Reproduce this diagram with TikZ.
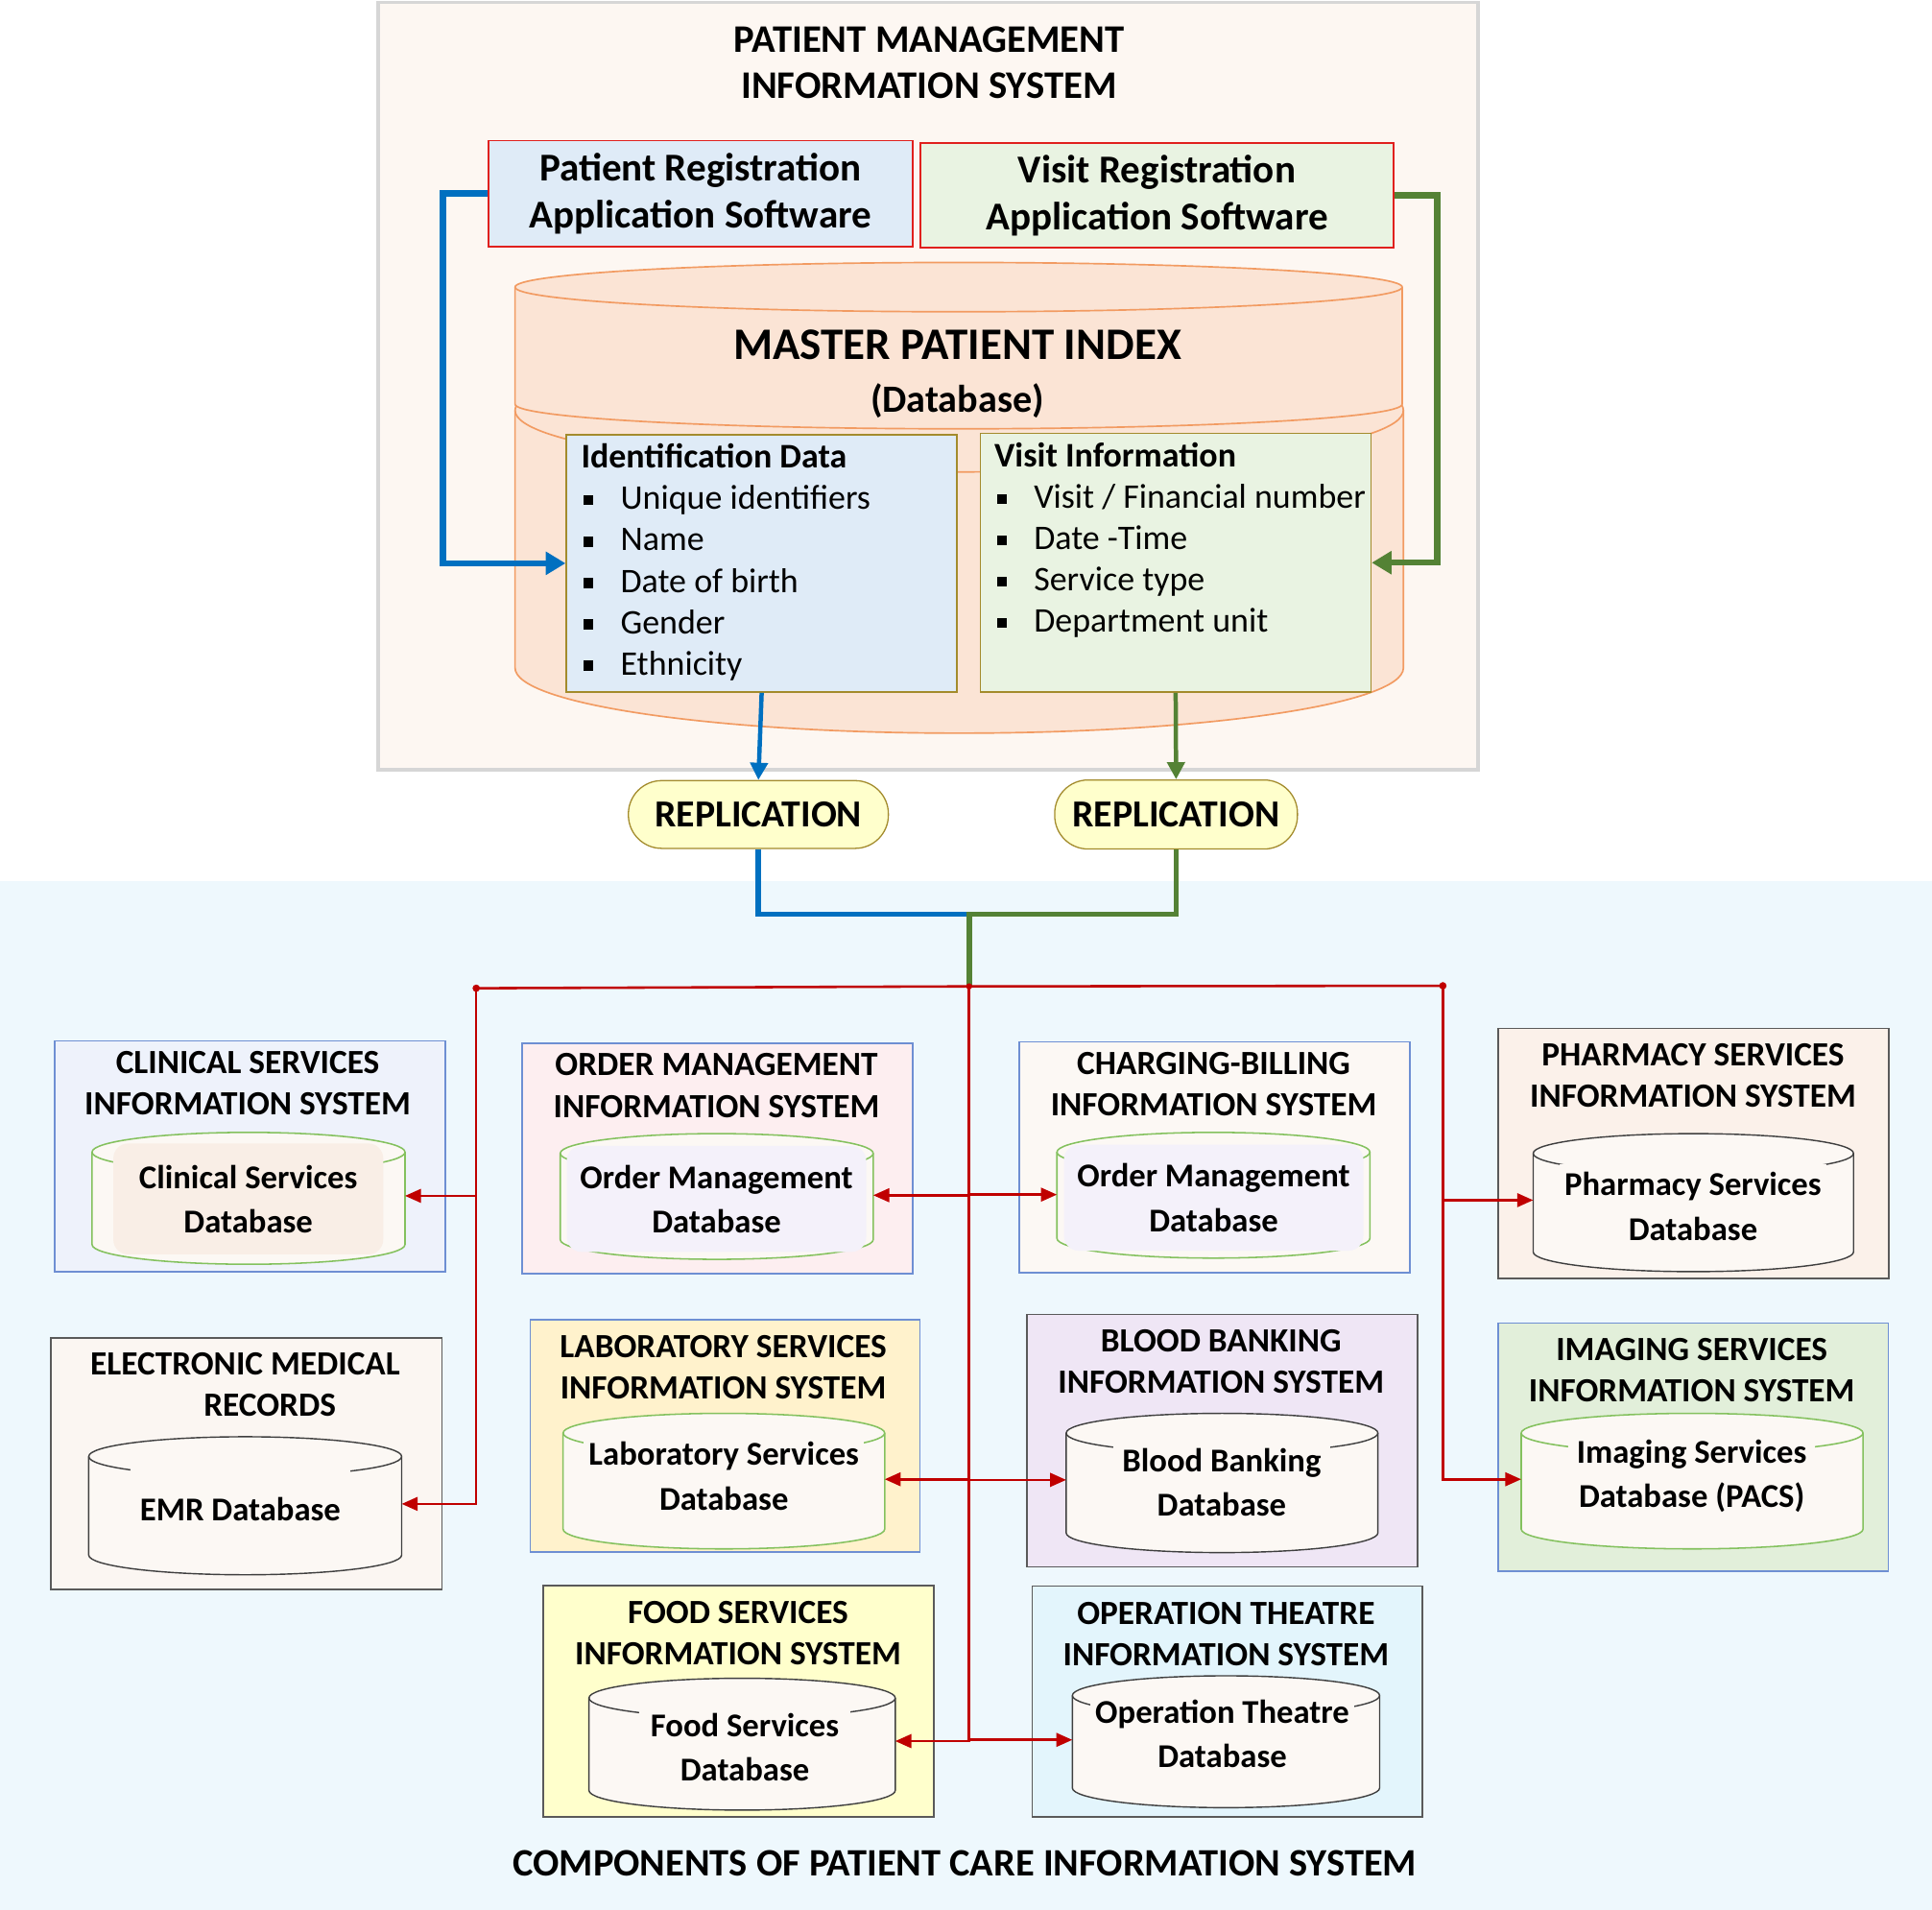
\documentclass[tikz,border=0pt]{standalone}
\usepackage{fontspec}
\setmainfont{Carlito}
\usetikzlibrary{arrows.meta}
\definecolor{panelfill}{HTML}{FDF7F2}
\definecolor{panelline}{HTML}{D6D6D6}
\definecolor{bgblue}{HTML}{EEF8FD}
\definecolor{regred}{HTML}{E0201E}
\definecolor{prfill}{HTML}{DFEBF7}
\definecolor{vrfill}{HTML}{E9F3E2}
\definecolor{mpifill}{HTML}{FBE4D5}
\definecolor{mpiline}{HTML}{F29B62}
\definecolor{oliveline}{HTML}{A38B2C}
\definecolor{arrblue}{HTML}{0070C0}
\definecolor{arrgreen}{HTML}{548235}
\definecolor{repfill}{HTML}{FFFFCC}
\definecolor{busred}{HTML}{C00000}
\definecolor{sysblue}{HTML}{6E8FD3}
\definecolor{sysgray}{HTML}{5A5A5A}
\definecolor{cylgreen}{HTML}{84C15E}
\definecolor{cylgray}{HTML}{3F3F3F}
\definecolor{cylfill}{HTML}{FCF8F4}
\definecolor{clinfill}{HTML}{EEF2FB}
\definecolor{ordfill}{HTML}{FDEEF0}
\definecolor{chgfill}{HTML}{FCF8F4}
\definecolor{phafill}{HTML}{FBF1EA}
\definecolor{emrfill}{HTML}{FBF6F2}
\definecolor{labfill}{HTML}{FFF2CC}
\definecolor{bldfill}{HTML}{EFE6F5}
\definecolor{imgfill}{HTML}{E2EFDA}
\definecolor{foodfill}{HTML}{FFFFCC}
\definecolor{otfill}{HTML}{E3F5FC}
\definecolor{clininner}{HTML}{F9EEE6}
\definecolor{ordinner}{HTML}{F4F1FA}
\newcommand\myfs[2]{\fontsize{#1}{#2}\selectfont}
\newcommand\blt{\makebox[32pt][l]{\hspace{2pt}\rule[3.5pt]{8pt}{8pt}}}
\newcommand\dbcyl[6]{%
  \path[#6] ({#1-#2},#3) -- ({#1-#2},#4) arc[start angle=180,end angle=360,x radius=#2pt,y radius=#5pt] -- ({#1+#2},#3) arc[start angle=0,end angle=180,x radius=#2pt,y radius=#5pt] -- cycle;
  \draw[#6,fill=none] ({#1-#2},#3) arc[start angle=180,end angle=360,x radius=#2pt,y radius=#5pt];
}
\begin{document}
\begin{tikzpicture}[x=1pt,y=-1pt,
  panel/.style={draw=panelline,line width=3pt,fill=panelfill},
  regbox/.style={draw=regred,line width=1.3pt,align=center,inner sep=0pt,font=\bfseries\myfs{32}{38}},
  infobox/.style={draw=oliveline,line width=1.3pt,anchor=north west,inner xsep=12pt,inner ysep=0pt,font=\myfs{28}{33.5},align=left},
  mpitext/.style={inner sep=0pt,font=\bfseries\myfs{36.6}{40}},
  repnode/.style={draw=oliveline,fill=repfill,line width=1pt,rounded corners=27pt,inner sep=0pt,font=\bfseries\myfs{31}{36}},
  sysbox/.style={anchor=north west,line width=1.3pt,inner sep=0pt},
  systitle/.style={align=center,inner sep=0pt,font=\bfseries\myfs{27.5}{33.5}},
  dbtext/.style={align=center,inner xsep=4pt,inner ysep=3pt,font=\bfseries\myfs{27}{36}},
  cylg/.style={draw=cylgreen,line width=1.2pt,fill=cylfill},
  cyld/.style={draw=cylgray,line width=1.1pt,fill=cylfill},
  thickblue/.style={draw=arrblue,line width=5pt},
  thickgreen/.style={draw=arrgreen,line width=5pt},
  arrbig/.style={-{Triangle[length=16pt,width=18pt]}},
  arrmid/.style={-{Triangle[length=14pt,width=14pt]}},
  bus/.style={draw=busred,line width=2pt},
  busarrow/.style={draw=busred,line width=2pt,-{Triangle[length=13pt,width=11pt]}},
]
\useasboundingbox (0,0) rectangle (1568,1550);
\fill[white] (0,0) rectangle (1568,1550);
\fill[bgblue] (0,715) rectangle (1568,1550);
\path[panel] (307,2) rectangle (1199.5,625);

\node[inner sep=0pt,align=center,font=\bfseries\myfs{31.7}{37.5}] (pmtitle) at (754,51) {PATIENT MANAGEMENT\\INFORMATION SYSTEM};

% master patient index cylinder
\path[draw=mpiline,fill=mpifill,line width=1.3pt] (418,333) -- (418,542) arc[start angle=180,end angle=360,x radius=360.5pt,y radius=53pt] -- (1139,333) arc[start angle=0,end angle=180,x radius=360.5pt,y radius=50pt] -- cycle;
\draw[draw=mpiline,line width=1.3pt] (418,333) arc[start angle=180,end angle=360,x radius=360.5pt,y radius=50pt];
\path[draw=mpiline,fill=mpifill,line width=1.3pt] (418,233) -- (418,328) arc[start angle=180,end angle=360,x radius=360pt,y radius=20pt] -- (1138,233) arc[start angle=0,end angle=180,x radius=360pt,y radius=20pt] -- cycle;
\draw[draw=mpiline,line width=1.3pt] (418,233) arc[start angle=180,end angle=360,x radius=360pt,y radius=20pt];
\node[mpitext] (mpi) at (777,280) {MASTER PATIENT INDEX};
\node[inner sep=0pt,font=\bfseries\myfs{31.3}{36}] (mpidb) at (777,325) {(Database)};

\node[regbox,fill=prfill,minimum width=344pt,minimum height=86pt] (preg) at (568.5,157) {Patient Registration\\Application Software};
\node[regbox,fill=vrfill,minimum width=384pt,minimum height=85pt] (vreg) at (939,158.5) {Visit Registration\\Application Software};

\node[infobox,fill=prfill] (idd) at (459,352) {\parbox[t][209pt][t]{293pt}{\raggedright\vspace{4pt}\strut\textbf{Identification Data}\\
\mbox{\blt Unique identifiers}\\
\mbox{\blt Name}\\
\mbox{\blt Date of birth}\\
\mbox{\blt Gender}\\
\mbox{\blt Ethnicity}}};
\node[infobox,fill=vrfill,inner xsep=11.5pt] (vis) at (795,351) {\parbox[t][210pt][t]{294pt}{\raggedright\vspace{4pt}\strut\textbf{Visit Information}\\
\mbox{\blt Visit / Financial number}\\
\mbox{\blt Date -Time}\\
\mbox{\blt Service type}\\
\mbox{\blt Department unit}}};

\coordinate (bl) at (359.5,157);
\draw[thickblue,arrbig] (preg.west) -- (bl) |- (idd.west);
\coordinate (gr) at (1166.5,158.5);
\draw[thickgreen,arrbig] (vreg.east) -- (gr) |- (vis.east);

\node[repnode,minimum width=211pt,minimum height=55pt] (rep1) at (615.5,661) {REPLICATION};
\node[repnode,minimum width=197pt,minimum height=56pt] (rep2) at (954.5,661) {REPLICATION};
\draw[draw=arrblue,line width=3.5pt,arrmid] (idd.south) -- (rep1.north);
\draw[draw=arrgreen,line width=3.5pt,arrmid] (vis.south) -- (rep2.north);

\coordinate (jn) at (786.5,742);
\coordinate (busM) at (786.5,800.5);
\coordinate (busL) at (386.5,802);
\coordinate (busR) at (1171,800);
\draw[draw=arrblue,line width=4.5pt] (rep1.south) |- (jn);
\draw[draw=arrgreen,line width=4.5pt] (rep2.south) |- (jn) -- (busM);
\draw[bus] (busL) -- (busM) -- (busR);

% 1 clinical
\node[sysbox,draw=sysblue,fill=clinfill,minimum width=317pt,minimum height=187.5pt] (clin) at (43.7,844) {};
\node[systitle] (clinT) at (201,879) {CLINICAL SERVICES\\INFORMATION SYSTEM};
\dbcyl{201.7}{127}{935}{1010}{16}{cylg}
\node[dbtext,fill=clininner,rounded corners=12pt,minimum width=219pt,minimum height=90pt] (clinD) at (201.5,973) {Clinical Services\\Database};
\coordinate (clinE) at (328.7,970.5);
% 2 order management
\node[sysbox,draw=sysblue,fill=ordfill,minimum width=317pt,minimum height=187pt] (ord) at (423,846) {};
\node[systitle] (ordT) at (581.5,881) {ORDER MANAGEMENT\\INFORMATION SYSTEM};
\dbcyl{581.7}{127}{936}{1006}{16}{cylg}
\node[dbtext,fill=ordinner,rounded corners=12pt,minimum width=243pt,minimum height=86pt] (ordD) at (581.5,973) {Order Management\\Database};
\coordinate (ordE) at (708.7,970);
% 3 charging billing
\node[sysbox,draw=sysblue,fill=chgfill,minimum width=317pt,minimum height=187pt] (chg) at (826.6,845) {};
\node[systitle] (chgT) at (985,880) {CHARGING-BILLING\\INFORMATION SYSTEM};
\dbcyl{984.8}{127}{935}{1005}{16}{cylg}
\node[dbtext,fill=ordinner,rounded corners=12pt,minimum width=243pt,minimum height=86pt] (chgD) at (985,972) {Order Management\\Database};
\coordinate (chgW) at (857.8,969.5);
% 4 pharmacy
\node[sysbox,draw=sysgray,fill=phafill,minimum width=317pt,minimum height=203pt] (pha) at (1215.4,834) {};
\node[systitle] (phaT) at (1374,873) {PHARMACY SERVICES\\INFORMATION SYSTEM};
\dbcyl{1374.3}{130}{936}{1016}{16}{cyld}
\node[dbtext,fill=cylfill,minimum width=184pt,minimum height=69pt] (phaD) at (1374,979) {Pharmacy Services\\Database};
\coordinate (phaW) at (1244.3,974);
% 5 emr
\node[sysbox,draw=sysgray,fill=emrfill,minimum width=317.3pt,minimum height=204pt] (emr) at (40.7,1085) {};
\node[systitle] (emrT) at (199,1124) {ELECTRONIC MEDICAL\\\hspace*{40pt}RECORDS};
\dbcyl{199}{127}{1182}{1262}{16}{cyld}
\node[dbtext,fill=cylfill,minimum width=178pt,minimum height=73pt] (emrD) at (195,1225) {EMR Database};
\coordinate (emrE) at (326,1220.5);
% 6 laboratory
\node[sysbox,draw=sysblue,fill=labfill,minimum width=316.4pt,minimum height=188.2pt] (lab) at (429.6,1070.5) {};
\node[systitle] (labT) at (587,1110) {LABORATORY SERVICES\\INFORMATION SYSTEM};
\dbcyl{587.5}{130.5}{1163}{1241}{16}{cylg}
\node[dbtext,fill=cylfill,minimum width=185pt] (labD) at (587.5,1198) {Laboratory Services\\Database};
\coordinate (labE) at (718,1200.5);
% 7 blood banking
\node[sysbox,draw=sysgray,fill=bldfill,minimum width=317pt,minimum height=205pt] (bld) at (833,1066) {};
\node[systitle] (bldT) at (991,1105) {BLOOD BANKING\\INFORMATION SYSTEM};
\dbcyl{991.8}{126.5}{1163}{1244}{16}{cyld}
\node[dbtext,fill=cylfill,minimum width=176pt,minimum height=64pt] (bldD) at (991.5,1203) {Blood Banking\\Database};
\coordinate (bldW) at (865.3,1201);
% 8 imaging
\node[sysbox,draw=sysblue,fill=imgfill,minimum width=316.4pt,minimum height=201.5pt] (img) at (1215.4,1073) {};
\node[systitle] (imgT) at (1373,1112) {IMAGING SERVICES\\INFORMATION SYSTEM};
\dbcyl{1373.3}{138.7}{1163}{1241}{16}{cylg}
\node[dbtext,fill=cylfill,minimum width=200pt] (imgD) at (1373,1198) {Imaging Services\\Database (PACS)};
\coordinate (imgW) at (1234.6,1200.5);
% 9 food
\node[sysbox,draw=sysgray,fill=foodfill,minimum width=317.5pt,minimum height=188pt] (food) at (440,1286) {};
\node[systitle] (foodT) at (599,1325) {FOOD SERVICES\\INFORMATION SYSTEM};
\dbcyl{602.3}{124.3}{1378}{1453}{16}{cyld}
\node[dbtext,fill=cylfill,minimum width=172pt,minimum height=66pt] (foodD) at (604.5,1418) {Food Services\\Database};
\coordinate (foodE) at (726.6,1413);
% 10 operation theatre
\node[sysbox,draw=sysgray,fill=otfill,minimum width=316.5pt,minimum height=187.5pt] (ot) at (837,1286.5) {};
\node[systitle] (otT) at (995,1326) {OPERATION THEATRE\\INFORMATION SYSTEM};
\dbcyl{995}{124.7}{1376}{1451}{16}{cyld}
\node[dbtext,fill=cylfill,minimum width=173pt] (otD) at (992,1407) {Operation Theatre\\Database};
\coordinate (otW) at (870.3,1412);

% red distribution arrows
\draw[busarrow] (busL) |- (clinE);
\draw[busarrow] (busL) |- (emrE);
\draw[busarrow] (busM) |- (ordE);
\draw[busarrow] (busM) |- (chgW);
\draw[busarrow] (busM) |- (labE);
\draw[busarrow] (busM) |- (bldW);
\draw[busarrow] (busM) |- (foodE);
\draw[busarrow] (busM) |- (otW);
\draw[busarrow] (busR) |- (phaW);
\draw[busarrow] (busR) |- (imgW);
\fill[busred] (busL) circle (3pt);
\fill[busred] (busR) circle (3pt);
\fill[busred] (busM) circle (2.5pt);

\node[inner sep=0pt,font=\bfseries\myfs{31.5}{36}] (footer) at (783,1512) {COMPONENTS OF PATIENT CARE INFORMATION SYSTEM};
\end{tikzpicture}
\end{document}
